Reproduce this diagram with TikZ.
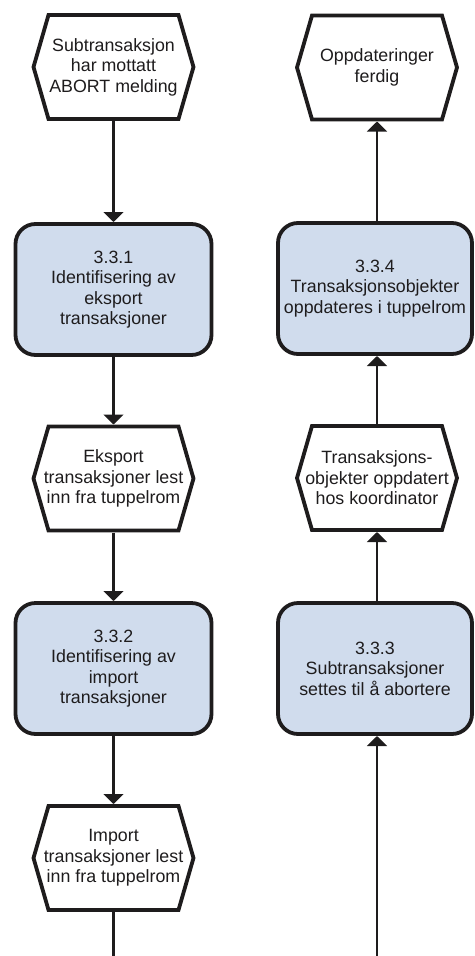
\documentclass[tikz,border=0pt]{standalone}
\usepackage{fontspec}
\setmainfont{Liberation Sans}
\usetikzlibrary{arrows.meta,backgrounds}
\definecolor{boxblue}{RGB}{208,220,237}
\definecolor{ink}{RGB}{30,28,29}
\tikzset{
  txt/.style={font=\fontsize{17.8}{20.5}\selectfont, text=ink, align=center, inner sep=0pt, outer sep=2pt},
  procbox/.style={txt, rectangle, rounded corners=20pt, draw=ink, line width=3.8pt, fill=boxblue, minimum width=196pt, minimum height=131pt},
  hexnode/.style={txt, rectangle, minimum width=160pt, minimum height=104pt},
  hexline/.style={draw=ink, line width=3.8pt, fill=white, line join=miter},
  conn/.style={draw=ink, line width=2.1pt},
  arr/.style={conn, -{Triangle[width=20pt,length=10pt]}}
}
\begin{document}
\begin{tikzpicture}[x=1pt,y=-1pt]
\useasboundingbox (0,0) rectangle (474,956);
% left column
\node[hexnode] (h1) at (113.5,67) {Subtransaksjon\\har mottatt\\ABORT melding};
\node[procbox] (b1) at (113.5,289.5) {3.3.1\\Identifisering av\\eksport\\transaksjoner};
\node[hexnode] (h2) at (113.5,478.5) {Eksport\\transaksjoner lest\\inn fra tuppelrom};
\node[procbox] (b2) at (113.5,668.5) {3.3.2\\Identifisering av\\import\\transaksjoner};
\node[hexnode] (h3) at (113.5,858) {Import\\transaksjoner lest\\inn fra tuppelrom};
% right column
\node[hexnode] (hA) at (377,67.5) {Oppdateringer\\ferdig};
\node[procbox, minimum width=194pt] (b4) at (375,288.5) {3.3.4\\Transaksjonsobjekter\\oppdateres i tuppelrom};
\node[hexnode] (hB) at (377,478) {Transaksjons-\\objekter oppdatert\\hos koordinator};
\node[procbox, minimum width=194pt] (b3) at (375,668.5) {3.3.3\\Subtransaksjoner\\settes til å abortere};
% hexagon outlines behind texts
\begin{pgfonlayer}{background}
\foreach \n in {h1,h2,h3,hA,hB}{
  \path[hexline] ([xshift=17pt,yshift=-2pt]\n.north west) -- ([xshift=-17pt,yshift=-2pt]\n.north east)
    -- ([xshift=-2pt]\n.east) -- ([xshift=-17pt,yshift=2pt]\n.south east)
    -- ([xshift=17pt,yshift=2pt]\n.south west) -- ([xshift=2pt]\n.west) -- cycle;
}
\end{pgfonlayer}
\coordinate (endL) at (113.5,956);
\coordinate (endR) at (377,956);
% connectors
\draw[arr] (h1.south) -- (b1.north);
\draw[arr] (b1.south) -- (h2.north);
\draw[arr] (h2.south) -- (b2.north);
\draw[arr] (b2.south) -- (h3.north);
\draw[conn] (h3.south) -- (endL);
\draw[arr] (endR) -- (b3.south -| endR);
\draw[arr] (b3.north -| hB.north) -- (hB.south);
\draw[arr] (hB.north) -- (b4.south -| hB.north);
\draw[arr] (b4.north -| hA.south) -- (hA.south);
\end{tikzpicture}
\end{document}
